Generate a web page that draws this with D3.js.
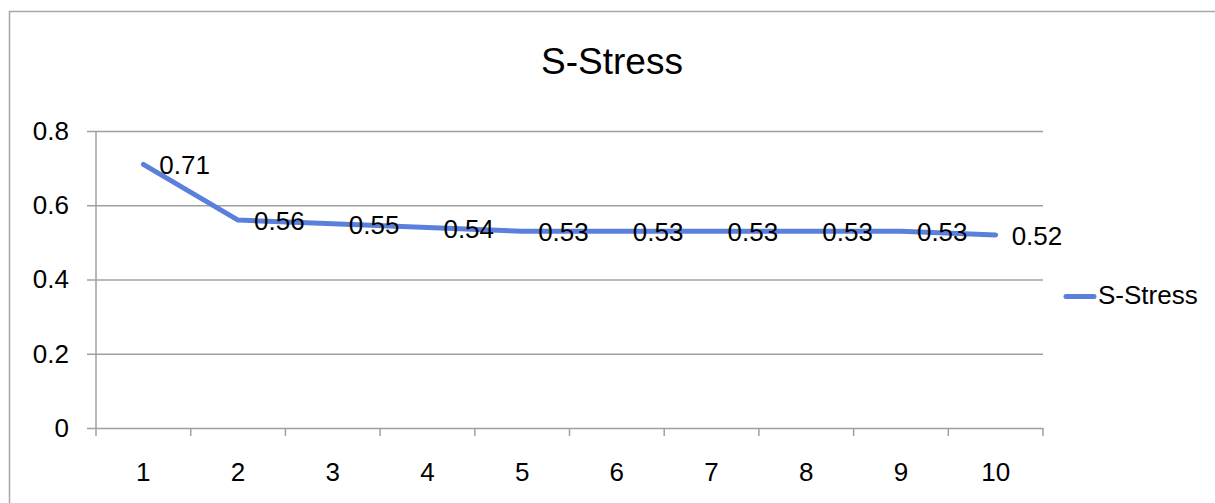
<!doctype html>
<html>
<head>
<meta charset="utf-8">
<title>S-Stress</title>
<script src="https://cdnjs.cloudflare.com/ajax/libs/d3/7.8.5/d3.min.js"></script>
<style>
  body { margin: 0; background: #fff; }
  text { font-family: "Liberation Sans", Arial, sans-serif; fill: #000; }
</style>
</head>
<body>
<div id="chart"></div>
<script>
// data
const categories = ["1", "2", "3", "4", "5", "6", "7", "8", "9", "10"];
const stress = [0.71, 0.56, 0.55, 0.54, 0.53, 0.53, 0.53, 0.53, 0.53, 0.52];
const yTicks = [0, 0.2, 0.4, 0.6, 0.8];
const seriesName = "S-Stress";

const W = 1215, H = 503;
const plotL = 96, plotR = 1043, plotT = 131, plotB = 428;
const grey = "#a0a0a0", blue = "#5b80dc";

const svg = d3.select("#chart").append("svg")
  .attr("width", W).attr("height", H);

// outer frame
svg.append("rect")
  .attr("x", 9.5).attr("y", 11.5)
  .attr("width", W + 20).attr("height", H + 20)
  .attr("fill", "none").attr("stroke", "#a6a6a6").attr("stroke-width", 1.5);

const x = d3.scaleBand().domain(categories).range([plotL, plotR]);
const y = d3.scaleLinear().domain([0, 0.8]).range([plotB, plotT]);

// title
svg.append("text")
  .attr("x", 612).attr("y", 74)
  .attr("text-anchor", "middle")
  .style("font-size", "37px")
  .text("S-Stress");

// gridlines + y axis
const yAxis = svg.append("g")
  .attr("transform", `translate(${plotL},0)`)
  .call(d3.axisLeft(y).tickValues(yTicks).tickSize(-(plotR - plotL))
    .tickFormat(d => d === 0 ? "0" : d3.format(".1f")(d)));
yAxis.select(".domain").remove();
yAxis.selectAll(".tick line").attr("stroke", grey).attr("stroke-width", 1.5)
  .attr("x1", -9);
yAxis.selectAll(".tick text").attr("x", -27).style("font-size", "26px");

// y axis line
svg.append("line")
  .attr("x1", plotL).attr("x2", plotL).attr("y1", plotT).attr("y2", plotB)
  .attr("stroke", grey).attr("stroke-width", 1.5);

// x axis
const xAxis = svg.append("g")
  .attr("transform", `translate(0,${plotB})`)
  .call(d3.axisBottom(x).tickSize(0).tickPadding(35));
xAxis.select(".domain").remove();
xAxis.selectAll(".tick text").style("font-size", "26px");

// x tick marks at band edges
const edges = categories.map(c => x(c)).concat([plotR]);
svg.selectAll(".xtick").data(edges).join("line")
  .attr("class", "xtick")
  .attr("x1", d => d).attr("x2", d => d)
  .attr("y1", plotB).attr("y2", plotB + 8)
  .attr("stroke", grey).attr("stroke-width", 1.5);

// line
const line = d3.line()
  .x((d, i) => x(categories[i]) + x.bandwidth() / 2)
  .y(d => y(d));
svg.append("path")
  .datum(stress)
  .attr("d", line)
  .attr("fill", "none")
  .attr("stroke", blue).attr("stroke-width", 5)
  .attr("stroke-linecap", "round").attr("stroke-linejoin", "round");

// labels
svg.selectAll(".lbl").data(stress).join("text")
  .attr("class", "lbl")
  .attr("x", (d, i) => x(categories[i]) + x.bandwidth() / 2 + 16)
  .attr("y", d => y(d) + 10)
  .style("font-size", "26px")
  .text(d => d3.format(".2f")(d));

// legend
svg.append("line")
  .attr("x1", 1066).attr("x2", 1094).attr("y1", 296.5).attr("y2", 296.5)
  .attr("stroke", blue).attr("stroke-width", 5).attr("stroke-linecap", "round");
svg.append("text")
  .attr("x", 1098).attr("y", 304)
  .style("font-size", "26px")
  .text(seriesName);
</script>
</body>
</html>
